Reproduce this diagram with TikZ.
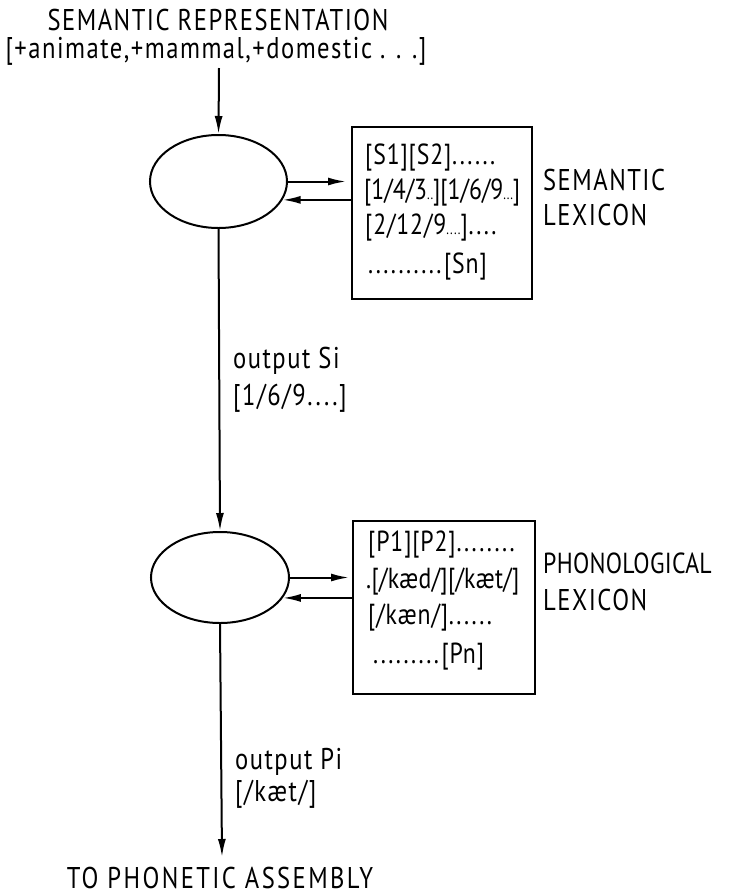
\documentclass[tikz,border=0pt]{standalone}
\usepackage{fontspec}
\setmainfont{PT Sans}[FakeStretch=0.82, LetterSpace=5]
\usetikzlibrary{shapes.geometric,arrows.meta,calc}
\newcommand{\sdots}[1]{{\fontsize{15}{18}\selectfont #1}}
\newcommand{\pd}{.\kern2.5pt}
\tikzset{
  lbl/.style={font=\fontsize{30}{34}\selectfont, inner sep=0pt},
  boxtxt/.style={font=\fontsize{29}{32}\selectfont\addfontfeatures{LetterSpace=3}, inner sep=0pt, anchor=west},
  proc/.style={draw, ellipse, line width=2pt, inner sep=0pt},
  lex/.style={draw, rectangle, line width=2pt, inner sep=0pt},
  arr/.style={line width=2pt, -{Latex[length=18pt,width=8pt]}},
}
\begin{document}
\begin{tikzpicture}[x=1pt,y=-1pt]
\useasboundingbox (0,0) rectangle (729,895);
% top texts
\node[lbl] (title) at (218,20) {SEMANTIC REPRESENTATION};
\node[lbl] (feat) at (216,51) {[+animate,+mammal,+domestic . . .]};
\coordinate (tin) at (219,68);
% semantic process
\node[proc, minimum width=137pt, minimum height=93pt] (sem) at (218.5,181.5) {};
\node[lex, minimum width=180pt, minimum height=172pt] (semlex) at (442,213) {};
\node[boxtxt] (s1) at (365,158) {[S1][S2]\pd\pd\pd\pd\pd.};
\node[boxtxt, font=\fontsize{29}{32}\selectfont\addfontfeatures{LetterSpace=0}] (s2) at (364,193) {[1/4/3\sdots{..}][1/6/9\sdots{...}]};
\node[boxtxt] (s3) at (365,228) {[2/12/9\sdots{....}]\pd\pd\pd.};
\node[boxtxt] (s4) at (368,267) {\pd\pd\pd\pd\pd\pd\pd\pd\pd\pd[Sn]};
\node[lbl, anchor=west] (sl1) at (543,180) {SEMANTIC};
\node[lbl, anchor=west] (sl2) at (543,215) {LEXICON};
\draw[arr] (tin) -- (sem.north);
\draw[arr, shorten >=5pt] (sem.0) -- (sem.0 -| semlex.west);
\draw[arr] (semlex.west |- sem.-16.4) -- (sem.-16.4);
% output Si
\node[lbl, anchor=west] (os1) at (233,361) {output Si};
\node[lbl, anchor=west] (os2) at (233,398) {[1/6/9....]};
% phonological process
\node[proc, minimum width=138pt, minimum height=91pt] (pho) at (220,577.5) {};
\node[lex, minimum width=182pt, minimum height=173pt] (pholex) at (444,607.5) {};
\node[boxtxt] (p1) at (368,545) {[P1][P2]\pd\pd\pd\pd\pd\pd\pd.};
\node[boxtxt, font=\fontsize{29}{32}\selectfont\addfontfeatures{LetterSpace=1}] (p2) at (366,582) {.[/kæd/][/kæt/]};
\node[boxtxt] (p3) at (368,618) {[/kæn/]\pd\pd\pd\pd\pd.};
\node[boxtxt] (p4) at (373,657) {\pd\pd\pd\pd\pd\pd\pd\pd\pd[Pn]};
\node[lbl, anchor=west, font=\fontsize{29}{34}\selectfont\addfontfeatures{LetterSpace=1}] (pl1) at (543,563) {PHONOLOGICAL};
\node[lbl, anchor=west] (pl2) at (543,600) {LEXICON};
\draw[arr] (sem.south) -- (pho.north);
\draw[arr, shorten >=3pt] (pho.0) -- (pho.0 -| pholex.west);
\draw[arr] (pholex.west |- pho.-18.4) -- (pho.-18.4);
% output Pi
\node[lbl, anchor=west] (op1) at (235,762) {output Pi};
\node[lbl, anchor=west] (op2) at (235,794) {[/kæt/]};
\coordinate (tout) at (222,857);
\draw[arr] (pho.south) -- (tout);
\node[lbl, font=\fontsize{30}{34}\selectfont\addfontfeatures{LetterSpace=8}] (asm) at (220,878) {TO PHONETIC ASSEMBLY};
\end{tikzpicture}
\end{document}
